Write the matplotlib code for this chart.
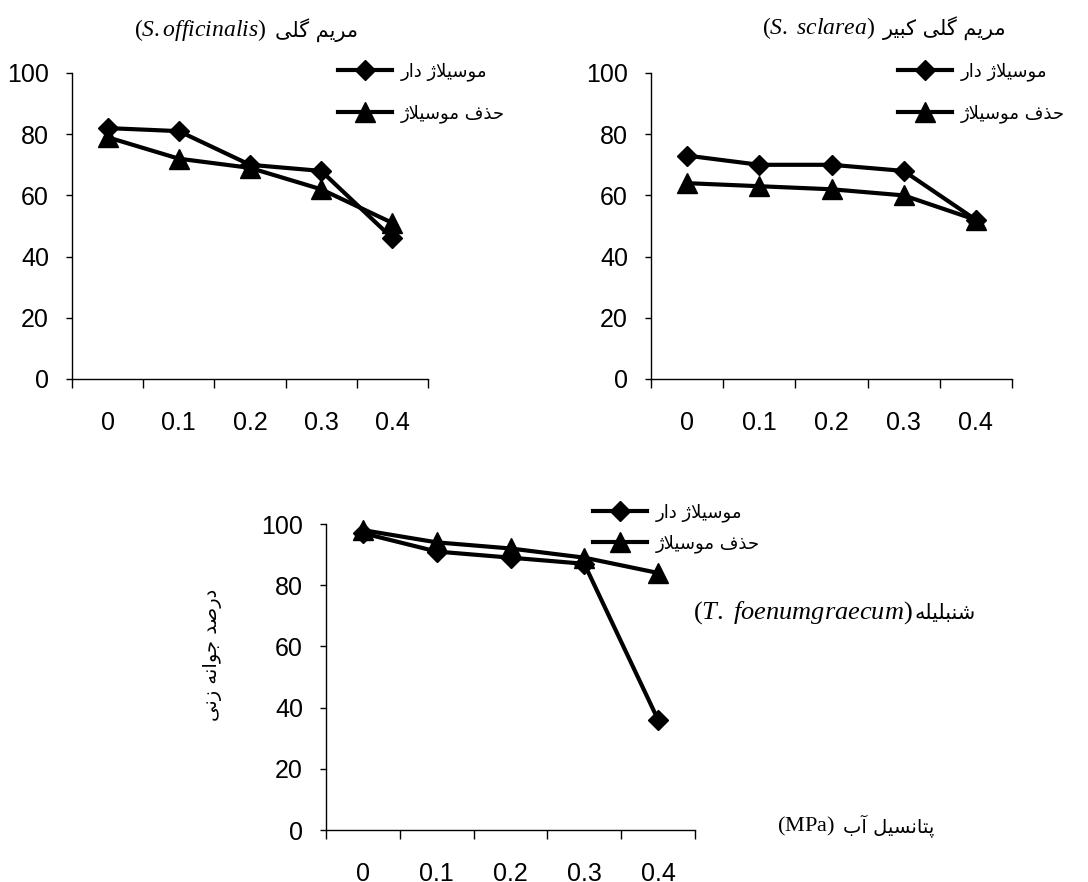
import numpy as np
import matplotlib
matplotlib.use("Agg")
import matplotlib.pyplot as plt

plt.rcParams['mathtext.fontset'] = 'custom'
plt.rcParams['mathtext.rm'] = 'Liberation Serif'
plt.rcParams['mathtext.it'] = 'Liberation Serif:italic'

# ---- data ----
potentials = ['0', '0.1', '0.2', '0.3', '0.4']   # water potential (MPa)

officinalis_with = [82, 81, 70, 68, 46]
officinalis_removed = [79, 72, 69, 62, 51]

sclarea_with = [73, 70, 70, 68, 52]
sclarea_removed = [64, 63, 62, 60, 52]

foenum_with = [97, 91, 89, 87, 36]
foenum_removed = [98, 94, 92, 89, 84]

label_with = 'موسیلاژ دار'
label_removed = 'حذف موسیلاژ'
title_off = 'مریم گلی'
title_scl = 'مریم گلی کبیر'
title_foe = 'شنبلیله'
ylabel_fa = 'درصد جوانه زنی'
xlabel_fa = 'پتانسیل آب'

# ---- simple Persian shaping (matplotlib has no complex text layout) ----
FORMS = {
    'ا': ('\uFE8D', '\uFE8E'), 'آ': ('\uFE81', '\uFE82'),
    'د': ('\uFEA9', '\uFEAA'), 'ذ': ('\uFEAB', '\uFEAC'),
    'ر': ('\uFEAD', '\uFEAE'), 'ز': ('\uFEAF', '\uFEB0'),
    'ژ': ('\uFB8A', '\uFB8B'), 'و': ('\uFEED', '\uFEEE'),
    'ب': ('\uFE8F', '\uFE90', '\uFE91', '\uFE92'),
    'پ': ('\uFB56', '\uFB57', '\uFB58', '\uFB59'),
    'ت': ('\uFE95', '\uFE96', '\uFE97', '\uFE98'),
    'ج': ('\uFE9D', '\uFE9E', '\uFE9F', '\uFEA0'),
    'ح': ('\uFEA1', '\uFEA2', '\uFEA3', '\uFEA4'),
    'س': ('\uFEB1', '\uFEB2', '\uFEB3', '\uFEB4'),
    'ش': ('\uFEB5', '\uFEB6', '\uFEB7', '\uFEB8'),
    'ص': ('\uFEB9', '\uFEBA', '\uFEBB', '\uFEBC'),
    'ف': ('\uFED1', '\uFED2', '\uFED3', '\uFED4'),
    'ک': ('\uFB8E', '\uFB8F', '\uFB90', '\uFB91'),
    'گ': ('\uFB92', '\uFB93', '\uFB94', '\uFB95'),
    'ل': ('\uFEDD', '\uFEDE', '\uFEDF', '\uFEE0'),
    'م': ('\uFEE1', '\uFEE2', '\uFEE3', '\uFEE4'),
    'ن': ('\uFEE5', '\uFEE6', '\uFEE7', '\uFEE8'),
    'ه': ('\uFEE9', '\uFEEA', '\uFEEB', '\uFEEC'),
    'ی': ('\uFBFC', '\uFBFD', '\uFBFE', '\uFBFF'),
}
LAM_ALEF = {'ا': ('\uFEFB', '\uFEFC'), 'آ': ('\uFEF5', '\uFEF6')}


def fa(text):
    out = []
    prev_joins = False
    i = 0
    while i < len(text):
        ch = text[i]
        nxt = text[i + 1] if i + 1 < len(text) else ''
        if ch == 'ل' and nxt in LAM_ALEF:
            out.append(LAM_ALEF[nxt][1 if prev_joins else 0])
            prev_joins = False
            i += 2
            continue
        if ch not in FORMS:
            out.append(ch)
            prev_joins = False
            i += 1
            continue
        f = FORMS[ch]
        joins_next = len(f) == 4 and nxt in FORMS
        if prev_joins and joins_next:
            out.append(f[3])
        elif prev_joins:
            out.append(f[1])
        elif joins_next:
            out.append(f[2])
        else:
            out.append(f[0])
        prev_joins = joins_next
        i += 1
    return ''.join(reversed(out))


FA_FONT = ['DejaVu Sans']
W, H = 1088, 882

fig = plt.figure(figsize=(W / 100, H / 100), dpi=100)


def px_axes(x0, x1, y0, y1):
    return fig.add_axes([x0 / W, 1 - y1 / H, (x1 - x0) / W, (y1 - y0) / H])


def style_axes(ax):
    n = len(potentials)
    ax.set_xlim(0, n)
    ax.set_ylim(0, 100)
    ax.set_yticks(np.arange(0, 101, 20))
    ax.set_xticks(np.arange(n + 1))
    ax.set_xticklabels([])
    ax.set_xticks(np.arange(n) + 0.5, potentials, minor=True)
    ax.tick_params(axis='x', which='major', length=6.5, width=1, direction='out')
    ax.tick_params(axis='x', which='minor', length=0, pad=23)
    ax.tick_params(axis='y', length=4.5, width=1, pad=12)
    for lab in ax.get_xticklabels(minor=True) + ax.get_yticklabels():
        lab.set_fontfamily('Liberation Sans')
        lab.set_fontsize(18)
    for s in ('top', 'right'):
        ax.spines[s].set_visible(False)
    for s in ('left', 'bottom'):
        ax.spines[s].set_linewidth(1)


def draw(ax, with_muc, removed, leg_x, leg_y, spacing):
    x = np.arange(len(potentials)) + 0.5
    l1, = ax.plot(x, with_muc, color='black', lw=3, marker='D', ms=10,
                  clip_on=False, zorder=3)
    l2, = ax.plot(x, removed, color='black', lw=3, marker='^', ms=14,
                  clip_on=False, zorder=3)
    ax.legend([l1, l2], [fa(label_with), fa(label_removed)],
              loc='center left', bbox_to_anchor=(leg_x / W, 1 - leg_y / H),
              bbox_transform=fig.transFigure, frameon=False,
              prop={'family': FA_FONT, 'size': 13}, handlelength=3.0,
              handletextpad=0.5, labelspacing=spacing, borderpad=0,
              borderaxespad=0)


def title(xr, y, fa_text, latin, size_fa=15, size_lat=17):
    t = fig.text(xr / W, 1 - y / H, fa(fa_text), ha='right', va='center',
                 fontsize=size_fa, family=FA_FONT)
    plt.annotate(latin, xy=(0, 0.5), xycoords=t, xytext=(-6, 0),
                 textcoords='offset points', ha='right', va='center',
                 fontsize=size_lat)


ax1 = px_axes(72, 428, 73, 379)
style_axes(ax1)
draw(ax1, officinalis_with, officinalis_removed, 338, 93, 1.3)

ax2 = px_axes(651, 1012, 73, 379)
style_axes(ax2)
draw(ax2, sclarea_with, sclarea_removed, 898, 93, 1.3)

ax3 = px_axes(326, 695, 524, 830)
style_axes(ax3)
draw(ax3, foenum_with, foenum_removed, 593, 528, 0.7)

title(358, 30, title_off, r'$(\mathit{S.officinalis})$')
title(1007, 28, title_scl, r'$(\mathit{S.\ sclarea})$')

# bottom title: latin on the left, persian right after it
lat = fig.text(693 / W, 1 - 613 / H, r'$(\mathit{T.\ foenumgraecum})$',
               ha='left', va='center', fontsize=19)
ax3.annotate(fa(title_foe), xy=(1, 0.5), xycoords=lat, xytext=(1, 0),
             textcoords='offset points', ha='left', va='center',
             fontsize=15, family=FA_FONT)

# axis labels of the bottom panel
xl = fig.text(777 / W, 1 - 826 / H, r'$\mathrm{(MPa)}$', ha='left', va='center',
              fontsize=16)
ax3.annotate(fa(xlabel_fa), xy=(1, 0.5), xycoords=xl, xytext=(6, 0),
             textcoords='offset points', ha='left', va='center',
             fontsize=14, family=FA_FONT)
fig.text(212 / W, 1 - 655 / H, fa(ylabel_fa), rotation=90, ha='center',
         va='center', fontsize=14, family=FA_FONT)

fig.savefig('out.png', dpi=100)
